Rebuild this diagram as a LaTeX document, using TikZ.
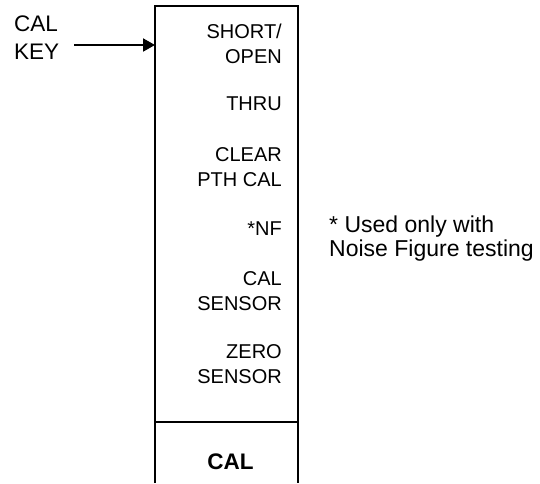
\documentclass[tikz,border=0pt]{standalone}
\usepackage{fontspec}
\setmainfont{Liberation Sans}
\usepackage{tikz}
\usetikzlibrary{arrows.meta,positioning,calc}

\begin{document}
\begin{tikzpicture}[x=1pt,y=-1pt,
  softkey/.style={anchor=base east,align=right,inner sep=0pt,font=\fontsize{20}{24.5}\selectfont},
  sidetext/.style={anchor=base west,align=left,inner sep=0pt}]
\useasboundingbox (0,0) rectangle (540,483);
% menu column (open at the bottom)
\draw[line width=1.2pt] (155,483) -- (155,6) -- (298,6) -- (298,483);
\draw[line width=1.2pt] (155,422) -- (298,422);
% soft key labels (y = baseline of last line)
\foreach \name/\y/\txt in {short/63/{SHORT/\\OPEN},thru/110/{THRU},clear/186/{CLEAR\\PTH CAL},
    nf/235/{*NF},calsensor/310/{CAL\\SENSOR},zero/383/{ZERO\\SENSOR}} {
  \node[softkey] (\name) at (282,\y) {\txt};
}
\node[anchor=base,inner sep=0pt,font=\fontsize{22.5}{27}\bfseries] (caltitle) at (230.5,469) {CAL};
% key pointer
\node[sidetext,font=\fontsize{22.5}{28}\selectfont] (calkey) at (14,59) {CAL\\KEY};
\coordinate (arrowtail) at (74,45);
\coordinate (boxedge) at (155,45);
\draw[line width=2pt,-{Triangle[length=12pt,width=13pt]}] (arrowtail) -- (boxedge);
% footnote
\node[sidetext,font=\fontsize{23}{24}\selectfont] (note) at (329,256) {* Used only with\\Noise Figure testing};
\end{tikzpicture}
\end{document}
